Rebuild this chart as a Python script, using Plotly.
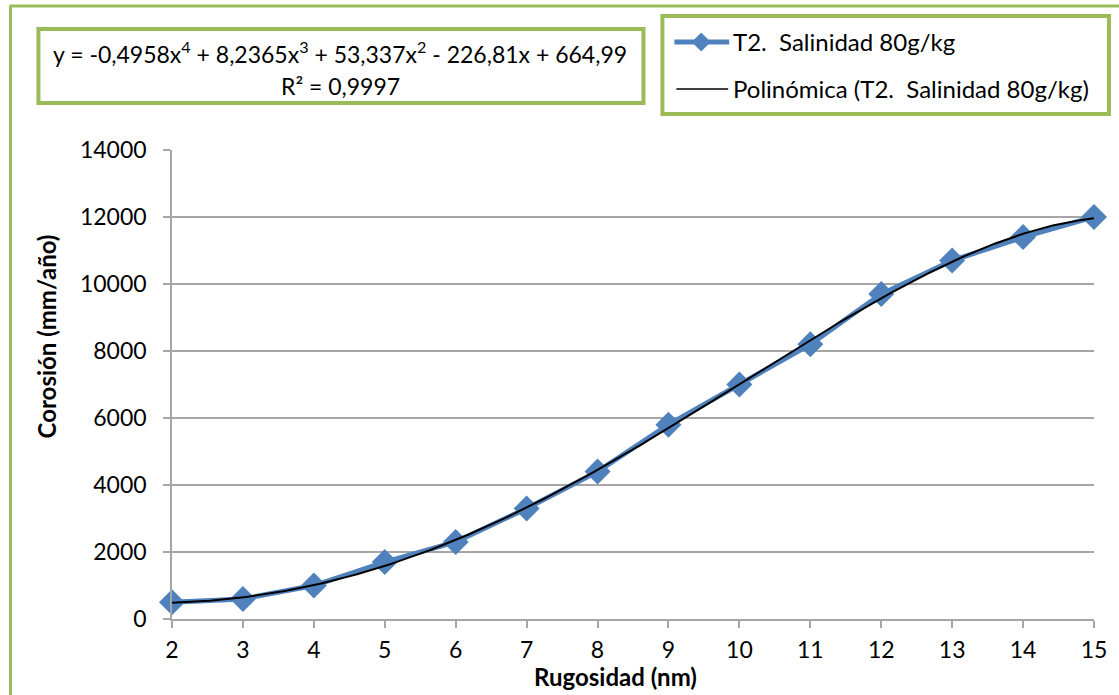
import numpy as np
import plotly.graph_objects as go

# Data
rugosidad = [2, 3, 4, 5, 6, 7, 8, 9, 10, 11, 12, 13, 14, 15]
corrosion = [500, 600, 1000, 1700, 2300, 3300, 4400, 5800, 7000, 8200, 9700, 10700, 11400, 12000]
# Trendline coefficients shown on the chart (x^4 ... x^0)
trend_coeffs = [-0.4958, 8.2365, 53.337, -226.81, 664.99]
series_name = "T2.\u00a0 Salinidad 80g/kg"
trend_name = "Polinómica (T2.\u00a0 Salinidad 80g/kg)"
eq_line1 = "y = -0,4958x<sup>4</sup> + 8,2365x<sup>3</sup> + 53,337x<sup>2</sup> - 226,81x + 664,99"
eq_line2 = "R² = 0,9997"
x_title = "<b>Rugosidad (nm)</b>"
y_title = "<b>Corosión (mm/año)</b>"
y_ticks = [0, 2000, 4000, 6000, 8000, 10000, 12000, 14000]

W, H = 1119, 695
# plot area in page pixels
L, R, T, B = 172, 1097, 150, 619

def px(x):
    return (x - L) / (R - L)

def py(y):
    return (B - y) / (B - T)

x_fit = np.linspace(min(rugosidad), max(rugosidad), 300)
y_fit = np.polyval(trend_coeffs, x_fit)

FONT = "Lato"
GREEN = "#9BBB59"
BLUE = "#4F81BD"
GRID = "#A6A6A6"

fig = go.Figure()
fig.add_trace(go.Scatter(
    x=rugosidad, y=corrosion, mode="lines+markers", name=series_name,
    line=dict(color=BLUE, width=5),
    marker=dict(symbol="diamond", size=20, color=BLUE),
    cliponaxis=False, showlegend=False,
))
fig.add_trace(go.Scatter(
    x=x_fit, y=y_fit, mode="lines", name=trend_name,
    line=dict(color="black", width=2),
    cliponaxis=False, showlegend=False,
))

def diamond(cx, cy, r):
    pts = [(cx, cy - r), (cx + r, cy), (cx, cy + r), (cx - r, cy)]
    return "M " + " L ".join(f"{px(a)},{py(b)}" for a, b in pts) + " Z"

shapes = [
    # outer frame (left and top edges)
    dict(type="line", xref="paper", yref="paper", x0=px(10), x1=px(10), y0=py(6), y1=py(H + 5),
         line=dict(color=GREEN, width=3)),
    dict(type="line", xref="paper", yref="paper", x0=px(9), x1=px(W + 5), y0=py(6), y1=py(6),
         line=dict(color=GREEN, width=3)),
    # equation box
    dict(type="rect", xref="paper", yref="paper", x0=px(38), x1=px(645), y0=py(29), y1=py(103),
         line=dict(color=GREEN, width=4), fillcolor="white", layer="below"),
    # legend box
    dict(type="rect", xref="paper", yref="paper", x0=px(664), x1=px(1112), y0=py(16), y1=py(114),
         line=dict(color=GREEN, width=4), fillcolor="white", layer="below"),
    # legend samples
    dict(type="line", xref="paper", yref="paper", x0=px(676), x1=px(731), y0=py(42), y1=py(42),
         line=dict(color=BLUE, width=5)),
    dict(type="path", xref="paper", yref="paper", path=diamond(703, 42, 9),
         fillcolor=BLUE, line=dict(color=BLUE, width=1)),
    dict(type="line", xref="paper", yref="paper", x0=px(678), x1=px(730), y0=py(89), y1=py(89),
         line=dict(color="black", width=1.5)),
]

annotations = [
    dict(xref="paper", yref="paper", x=px(341), y=py(52), xanchor="center", yanchor="middle",
         text=eq_line1, showarrow=False, font=dict(family=FONT, size=23, color="black")),
    dict(xref="paper", yref="paper", x=px(341), y=py(86), xanchor="center", yanchor="middle",
         text=eq_line2, showarrow=False, font=dict(family=FONT, size=23, color="black")),
    dict(xref="paper", yref="paper", x=px(733), y=py(42), xanchor="left", yanchor="middle",
         text=series_name, showarrow=False, font=dict(family=FONT, size=24, color="black")),
    dict(xref="paper", yref="paper", x=px(733), y=py(89), xanchor="left", yanchor="middle",
         text=trend_name, showarrow=False, font=dict(family=FONT, size=24, color="black")),
    dict(xref="paper", yref="paper", x=px(617), y=py(676), xanchor="center", yanchor="middle",
         text=x_title, showarrow=False, font=dict(family=FONT, size=24, color="black")),
    dict(xref="paper", yref="paper", x=px(46), y=py(336), xanchor="center", yanchor="middle",
         text=y_title, showarrow=False, textangle=-90, font=dict(family=FONT, size=24, color="black")),
]

fig.update_layout(
    width=W, height=H,
    margin=dict(l=L, r=W - R, t=T, b=H - B),
    paper_bgcolor="white", plot_bgcolor="white",
    font=dict(family=FONT, size=23, color="black"),
    shapes=shapes, annotations=annotations,
    showlegend=False,
    xaxis=dict(
        range=[2, 15], tickmode="array", tickvals=rugosidad, ticktext=[str(v) for v in rugosidad],
        showgrid=False, showline=True, linecolor=GRID, linewidth=1.5,
        ticks="outside", ticklen=7, tickcolor=GRID, tickwidth=1.5, ticklabelstandoff=3,
        tickfont=dict(family=FONT, size=23), zeroline=False,
    ),
    yaxis=dict(
        range=[0, 14000], tickmode="array", tickvals=y_ticks, ticktext=[str(v) for v in y_ticks],
        showgrid=True, gridcolor=GRID, gridwidth=1.5,
        showline=True, linecolor=GRID, linewidth=1.5,
        ticks="outside", ticklen=7, tickcolor=GRID, tickwidth=1.5, ticklabelstandoff=12,
        tickfont=dict(family=FONT, size=23), zeroline=False,
    ),
)

fig.write_html(
    "out.html",
    config={"displayModeBar": False},
    post_script="document.body.style.margin='0';document.body.style.overflow='hidden';"
                "document.documentElement.style.overflow='hidden';",
)
